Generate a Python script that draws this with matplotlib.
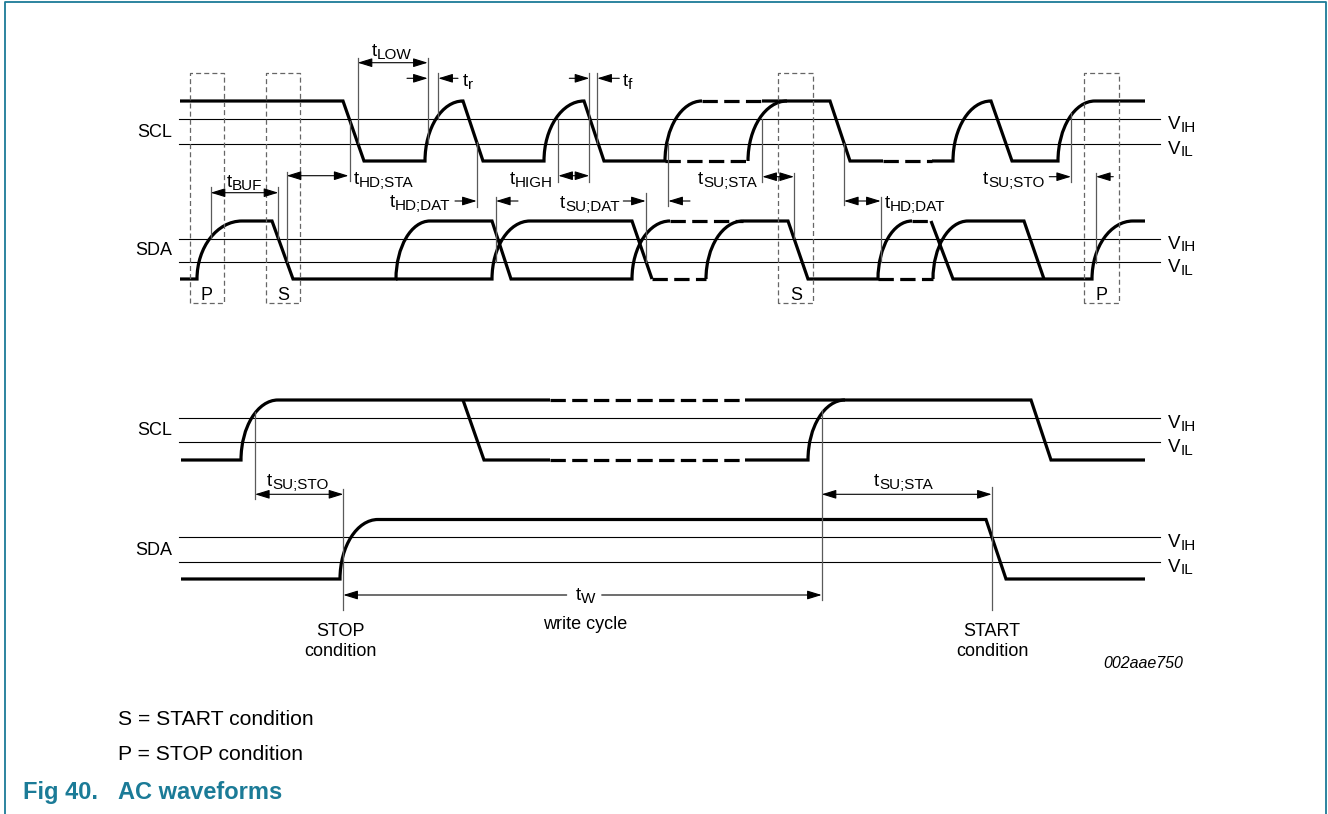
import matplotlib
matplotlib.use('Agg')
import matplotlib.pyplot as plt
from matplotlib.path import Path
from matplotlib.patches import PathPatch

plt.rcParams['font.family'] = 'Liberation Sans'

TEAL = '#1b7b97'

# waveforms: (time, level, edge into this point) ; '-' solid, '--' dashed, 'c' curved rise
scl_top = [(180, 'H', ''), (343, 'H', '-'), (364, 'L', '-'), (425, 'L', '-'), (463, 'H', 'c'),
           (483, 'L', '-'), (544, 'L', '-'), (584, 'H', 'c'), (604, 'L', '-'), (665, 'L', '-'),
           (702, 'H', 'c'), (762, 'H', '--'), (830, 'H', '-'), (850, 'L', '-'), (883, 'L', '-'),
           (932, 'L', '--'), (953, 'L', '-'), (991, 'H', 'c'), (1012, 'L', '-'), (1058, 'L', '-'),
           (1095, 'H', 'c'), (1145, 'H', '-')]
scl_top_alt = [(665, 'L', ''), (748, 'L', '--'), (787, 'H', 'c')]

sda_top = [(180, 'L', ''), (197, 'L', '-'), (242, 'H', 'c'), (272, 'H', '-'), (293, 'L', '-'),
           (396, 'L', '-'), (430, 'H', 'c'), (492, 'H', '-'), (511, 'L', '-'), (632, 'L', '-'),
           (670, 'H', 'c'), (743, 'H', '--'), (788, 'H', '-'), (808, 'L', '-'), (878, 'L', '-'),
           (912, 'H', 'c'), (931, 'H', '--'), (953, 'L', '-'), (1092, 'L', '-'), (1133, 'H', 'c'),
           (1145, 'H', '-')]
sda_top_alt1 = [(396, 'L', ''), (492, 'L', '-'), (530, 'H', 'c'), (632, 'H', '-'), (652, 'L', '-'),
                (706, 'L', '--'), (743, 'H', 'c')]
sda_top_alt2 = [(878, 'L', ''), (933, 'L', '--'), (968, 'H', 'c'), (1024, 'H', '-'), (1044, 'L', '-')]

scl_bot = [(181, 'L', ''), (241, 'L', '-'), (278, 'H', 'c'), (550, 'H', '-'), (745, 'H', '--'),
           (1031, 'H', '-'), (1051, 'L', '-'), (1145, 'L', '-')]
scl_bot_alt = [(463, 'H', ''), (484, 'L', '-'), (550, 'L', '-'), (745, 'L', '--'), (808, 'L', '-'),
               (845, 'H', 'c')]
sda_bot = [(181, 'L', ''), (340, 'L', '-'), (378, 'H', 'c'), (986, 'H', '-'), (1006, 'L', '-'),
           (1145, 'L', '-')]

# timing labels: subscript, x, baseline
t_labels = [('LOW', 372, 56), ('r', 463, 86), ('f', 623, 86), ('HD;STA', 354, 184),
            ('BUF', 227, 187), ('HD;DAT', 390, 207), ('HIGH', 510, 184), ('SU;DAT', 560, 208),
            ('SU;STA', 698, 184), ('HD;DAT', 885, 208), ('SU;STO', 983, 184),
            ('SU;STO', 267, 486), ('SU;STA', 874, 486), ('W', 576, 600)]

# timing arrows: x_from, x_to, y, kind ('<>' double, '>' single towards x_to)
arrows = [(357.7, 427.7, 62.7, '<>'), (407, 427.7, 78.3, '>'), (458, 438.3, 78.3, '>'),
          (286.7, 348.5, 175.7, '<>'), (210.7, 278.3, 192.7, '<>'), (455, 476.7, 201, '>'),
          (518, 496, 201, '>'), (558.3, 589.3, 175.7, '<>'), (569.3, 589.3, 78.3, '>'),
          (619.3, 597.3, 78.3, '>'), (623.3, 645.7, 201, '>'), (690, 668.3, 201, '>'),
          (762.3, 794, 176.7, '<>'), (844, 880.7, 201, '<>'), (1049.3, 1071, 176.7, '>'),
          (1113.3, 1096, 176.7, '>'),
          (255, 343.3, 494.3, '<>'), (566.7, 343.3, 595, '>'), (601.7, 821.7, 595, '>'),
          (821.7, 991.7, 494.3, '<>')]

# vertical reference lines: x, y_top, y_bottom
guides = [(357.7, 58, 143), (427.7, 58, 143), (438.3, 73, 119), (286.7, 172, 262), (350, 121, 181),
          (210.7, 187, 238), (278.3, 187, 238), (476.7, 142, 207), (496, 197, 262),
          (558.3, 119, 182), (589.3, 73, 182), (597.3, 73, 143), (645.7, 193, 262),
          (668.3, 143, 206), (762.3, 119, 182), (794, 173, 238), (844, 143, 205),
          (880.7, 197, 262), (1071, 113, 182), (1096, 173, 263),
          (255, 412, 499), (343.3, 489, 610), (821.7, 410, 600), (991.7, 487, 610)]

# P / S marker boxes: letter, x_left, x_right
boxes = [('P', 190, 224), ('S', 265.7, 300), ('S', 778.3, 813.3), ('P', 1084.3, 1119.3)]

# rows: name, high, low, VIH, VIL
rows = [('SCL', 101, 161, 119.3, 143.7), ('SDA', 221, 279, 238.7, 262.3),
        ('SCL', 400, 460, 418.3, 442), ('SDA', 519.5, 579, 537.3, 561.7)]


def draw_wave(ax, events, hi, lo):
    ys = {'H': hi, 'L': lo}
    parts = {'-': ([], []), '--': ([], [])}
    x0, y0 = events[0][0], ys[events[0][1]]
    for x, lev, edge in events[1:]:
        y = ys[lev]
        key = '--' if edge == '--' else '-'
        verts, codes = parts[key]
        if not verts or verts[-1] != (x0, y0):
            verts.append((x0, y0))
            codes.append(Path.MOVETO)
        if edge == 'c':
            k = 0.55
            verts += [(x0, y0 + k * (y - y0)), (x - k * (x - x0), y), (x, y)]
            codes += [Path.CURVE4] * 3
        else:
            verts.append((x, y))
            codes.append(Path.LINETO)
        x0, y0 = x, y
    for key, (verts, codes) in parts.items():
        if not verts:
            continue
        ls = '-' if key == '-' else (0, (4.8, 2.0))
        ax.add_patch(PathPatch(Path(verts, codes), fill=False, lw=2.3, color='black',
                               linestyle=ls, capstyle='butt', joinstyle='miter'))


def sub_text(ax, x, y, main, sub, size=13.5, subsize=11, adv=0.278):
    ax.text(x, y, main, fontsize=size, va='baseline', ha='left')
    ax.annotate(sub, xy=(x, y), xytext=(adv * size, -2), textcoords='offset points',
                fontsize=subsize, va='baseline', ha='left')


fig = plt.figure(figsize=(13.28, 8.14), dpi=100)
ax = fig.add_axes([0, 0, 1, 1])
ax.set_xlim(0, 1328)
ax.set_ylim(814, 0)
ax.axis('off')

# frame
ax.plot([5, 5, 1326, 1326], [820, 1.5, 1.5, 820], color=TEAL, lw=1.3)

# threshold lines and row labels
for name, hi, lo, vih, vil in rows:
    for yy in (vih, vil):
        ax.plot([179, 1160], [yy, yy], color='black', lw=0.8)
    ax.text(172, vil - 7, name, fontsize=13, ha='right', va='baseline')
    sub_text(ax, 1168, vih + 10, 'V', 'IH', adv=0.667)
    sub_text(ax, 1168, vil + 10, 'V', 'IL', adv=0.667)

draw_wave(ax, scl_top, 101, 161)
draw_wave(ax, scl_top_alt, 101, 161)
draw_wave(ax, sda_top, 221, 279)
draw_wave(ax, sda_top_alt1, 221, 279)
draw_wave(ax, sda_top_alt2, 221, 279)
draw_wave(ax, scl_bot, 400, 460)
draw_wave(ax, scl_bot_alt, 400, 460)
draw_wave(ax, sda_bot, 519.5, 579)

# dashed P/S boxes
for letter, xl, xr in boxes:
    ax.plot([xl, xl, xr, xr, xl], [302.7, 72.7, 72.7, 302.7, 302.7], color='#666666',
            lw=0.9, linestyle=(0, (4, 2.5)))
    ax.text((xl + xr) / 2, 300, letter, fontsize=13, ha='center', va='baseline')

for x, y0, y1 in guides:
    ax.plot([x, x], [y0, y1], color='#5a5a5a', lw=0.9)

for xa, xb, y, kind in arrows:
    style = ('<|-|>' if kind == '<>' else '-|>') + ',head_length=0.65,head_width=0.2'
    ax.annotate('', xy=(xb, y), xytext=(xa, y),
                arrowprops=dict(arrowstyle=style, lw=0.8, color='black', shrinkA=0, shrinkB=0,
                                mutation_scale=13.5))

for sub, x, y in t_labels:
    sub_text(ax, x, y, 't', sub)

ax.text(585.5, 629, 'write cycle', fontsize=13, ha='center', va='baseline')
ax.text(340, 636, 'STOP', fontsize=13, ha='center', va='baseline')
ax.text(340, 656, 'condition', fontsize=13, ha='center', va='baseline')
ax.text(992, 636, 'START', fontsize=13, ha='center', va='baseline')
ax.text(992, 656, 'condition', fontsize=13, ha='center', va='baseline')
ax.text(1103, 668.5, '002aae750', fontsize=11.5, style='italic', ha='left', va='baseline')

ax.text(118, 725, 'S = START condition', fontsize=15.2, ha='left', va='baseline')
ax.text(118, 759.5, 'P = STOP condition', fontsize=15.2, ha='left', va='baseline')
ax.text(22.7, 799, 'Fig 40.', fontsize=17, fontweight='bold', color=TEAL, ha='left', va='baseline')
ax.text(118.3, 799, 'AC waveforms', fontsize=17, fontweight='bold', color=TEAL, ha='left',
        va='baseline')

fig.savefig('out.png', dpi=100)
